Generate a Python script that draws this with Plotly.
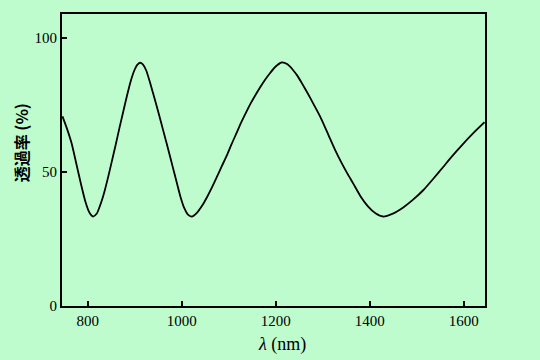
import plotly.graph_objects as go

wavelength_nm = [746, 755, 765, 775, 785, 795, 803, 811,
                 819, 827, 835, 843, 851, 859, 867, 875, 883, 891, 899, 905, 911,
                 917, 924, 932, 940, 948, 956, 964, 972, 980, 989, 997, 1005, 1013, 1021,
                 1032, 1044, 1054, 1063, 1074, 1085, 1096, 1106, 1117, 1127, 1137, 1147, 1156, 1166,
                 1176, 1187, 1199, 1212,
                 1224, 1236, 1246, 1255, 1268, 1281, 1294, 1304, 1315, 1326, 1339, 1352, 1365,
                 1380, 1396, 1412, 1428,
                 1449, 1471, 1492, 1514, 1535, 1556, 1577, 1599, 1621, 1644]
transmittance_pct = [70.8, 66.5, 61.0, 53.5, 45.8, 38.8, 35.0, 33.4,
                     34.5, 38.0, 42.5, 48.0, 54.0, 60.0, 66.3, 72.3, 78.3, 83.8, 88.0, 90.0, 90.8,
                     90.2, 88.0, 83.6, 78.7, 73.6, 68.4, 63.1, 57.8, 52.3, 46.2, 40.8, 36.6, 34.1, 33.4,
                     34.8, 37.7, 40.8, 43.9, 48.0, 52.2, 56.3, 60.5, 64.8, 68.8, 72.4, 75.8, 78.6, 81.5,
                     84.2, 86.8, 89.3, 90.9,
                     90.3, 88.2, 85.9, 83.3, 79.3, 75.1, 70.8, 67.0, 62.6, 58.3, 53.7, 49.5, 45.6,
                     41.0, 37.2, 34.6, 33.4,
                     34.5, 36.8, 39.7, 43.3, 47.5, 51.9, 56.3, 60.6, 64.7, 68.6]

x_ticks = [800, 1000, 1200, 1400, 1600]
y_ticks = [0, 50, 100]

bg = "rgb(190,252,206)"
serif = "Liberation Serif, Times New Roman, serif"

fig = go.Figure()
fig.add_trace(go.Scatter(x=wavelength_nm, y=transmittance_pct, mode="lines",
                         line=dict(color="black", width=1.8, shape="spline", smoothing=0.6),
                         showlegend=False, hoverinfo="skip"))

axis_common = dict(showgrid=False, zeroline=False, showline=True, linecolor="black", linewidth=2,
                   mirror=True, ticks="inside", ticklen=5, tickwidth=1.5, tickcolor="black",
                   tickfont=dict(family=serif, size=15, color="black"))

fig.update_xaxes(range=[745, 1645], tickvals=x_ticks, ticktext=[str(v) for v in x_ticks], **axis_common)
fig.update_yaxes(range=[0, 109], tickvals=y_ticks, ticktext=[str(v) for v in y_ticks], **axis_common)

fig.update_layout(
    width=540, height=360,
    margin=dict(l=62, r=55, t=14, b=54),
    paper_bgcolor=bg, plot_bgcolor=bg,
    annotations=[
        dict(text="<i>λ</i> (nm)", xref="paper", yref="paper", x=0.52, y=-0.09, xanchor="center",
             yanchor="top", showarrow=False, font=dict(family=serif, size=18, color="black")),
        dict(text="<b>透過率 (%)</b>", xref="paper", yref="paper", x=-0.095, y=0.56, xanchor="center",
             yanchor="middle", textangle=-90, showarrow=False,
             font=dict(family="Noto Sans CJK JP", size=16, color="black")),
    ],
)

fig.write_html("out.html", config={"displayModeBar": False},
               post_script="document.body.style.margin='0';document.body.style.padding='0';")
